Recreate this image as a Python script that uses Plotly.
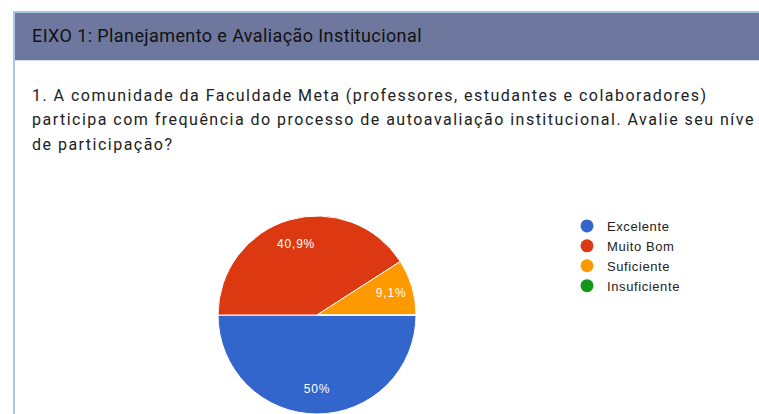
import plotly.graph_objects as go

categories = ["Excelente", "Muito Bom", "Suficiente", "Insuficiente"]
counts = [11, 9, 2, 0]
colors = ["#3366cc", "#dc3912", "#ff9900", "#109618"]
header_text = "EIXO 1: Planejamento e Avaliação Institucional"
question_lines = [
    "1. A comunidade da Faculdade Meta (professores, estudantes e colaboradores)",
    "participa com frequência do processo de autoavaliação institucional. Avalie seu níve",
    "de participação?",
]

W, H = 759, 414
total = sum(counts)


def spaced(s, px):
    return '<span style="letter-spacing:%spx">%s</span>' % (px, s)


def fmt_pct(v):
    p = round(100 * v / total, 1)
    s = ("%g" % p).replace(".", ",")
    return spaced(s + "%", 0.8) if v > 0 else ""


slice_text = [fmt_pct(v) for v in counts]
pie_domain = dict(x=[210 / W, 424 / W], y=[0, 198 / H])

fig = go.Figure()
# coloured slices
fig.add_trace(go.Pie(
    labels=categories, values=counts, textinfo="none",
    marker=dict(colors=colors, line=dict(color="white", width=1)),
    sort=False, direction="clockwise", rotation=90,
    domain=pie_domain, showlegend=False, hoverinfo="label+percent",
))
# transparent ring used only to place the percentage labels at ~3/4 radius
fig.add_trace(go.Pie(
    labels=categories, values=counts, text=slice_text, hole=0.5,
    textinfo="text", textposition="inside", insidetextorientation="horizontal",
    marker=dict(colors=["rgba(0,0,0,0)"] * len(counts), line=dict(width=0)),
    sort=False, direction="clockwise", rotation=90,
    textfont=dict(family="Arial", size=12, color="white"),
    domain=pie_domain, showlegend=False, hoverinfo="skip",
))
for c, col in zip(categories, colors):
    fig.add_trace(go.Scatter(
        x=[None], y=[None], mode="markers", name=spaced(c, 0.6),
        marker=dict(symbol="circle", size=13, color=col),
    ))

shapes = [
    dict(type="rect", xref="paper", yref="paper", x0=13 / W, x1=15 / W, y0=0, y1=1 - 11 / H,
         fillcolor="#a9c5ea", line=dict(width=0), layer="below"),
    dict(type="rect", xref="paper", yref="paper", x0=13 / W, x1=1, y0=1 - 13 / H, y1=1 - 11 / H,
         fillcolor="#a9c5ea", line=dict(width=0), layer="below"),
    dict(type="rect", xref="paper", yref="paper", x0=15 / W, x1=1, y0=1 - 60 / H, y1=1 - 13 / H,
         fillcolor="#6e789e", line=dict(width=0), layer="below"),
    dict(type="rect", xref="paper", yref="paper", x0=15 / W, x1=1, y0=1 - 61 / H, y1=1 - 60 / H,
         fillcolor="#d4dcee", line=dict(width=0), layer="below"),
]

annotations = [dict(
    text=spaced(header_text, 0.4), xref="paper", yref="paper", x=30 / W, y=1 - 36 / H,
    xanchor="left", yanchor="middle", showarrow=False,
    font=dict(family="Roboto", size=18, color="#111111"),
)]
for i, line in enumerate(question_lines):
    annotations.append(dict(
        text=spaced(line, 1.48), xref="paper", yref="paper", x=30 / W, y=1 - (95 + 24.5 * i) / H,
        xanchor="left", yanchor="middle", showarrow=False,
        font=dict(family="Roboto", size=16, color="#202124"),
    ))

fig.update_layout(
    width=W, height=H, margin=dict(l=0, r=0, t=0, b=0),
    paper_bgcolor="white", plot_bgcolor="white",
    xaxis=dict(visible=False, domain=[0.99, 1]), yaxis=dict(visible=False, domain=[0.99, 1]),
    shapes=shapes, annotations=annotations,
    legend=dict(x=567 / W, y=1 - 211 / H, xanchor="left", yanchor="top",
                font=dict(family="Arial", size=13, color="#222222"),
                bgcolor="rgba(0,0,0,0)", tracegroupgap=0, itemclick=False),
)

fig.write_html("out.html", config={"displayModeBar": False},
               post_script="document.body.style.margin='0';")
